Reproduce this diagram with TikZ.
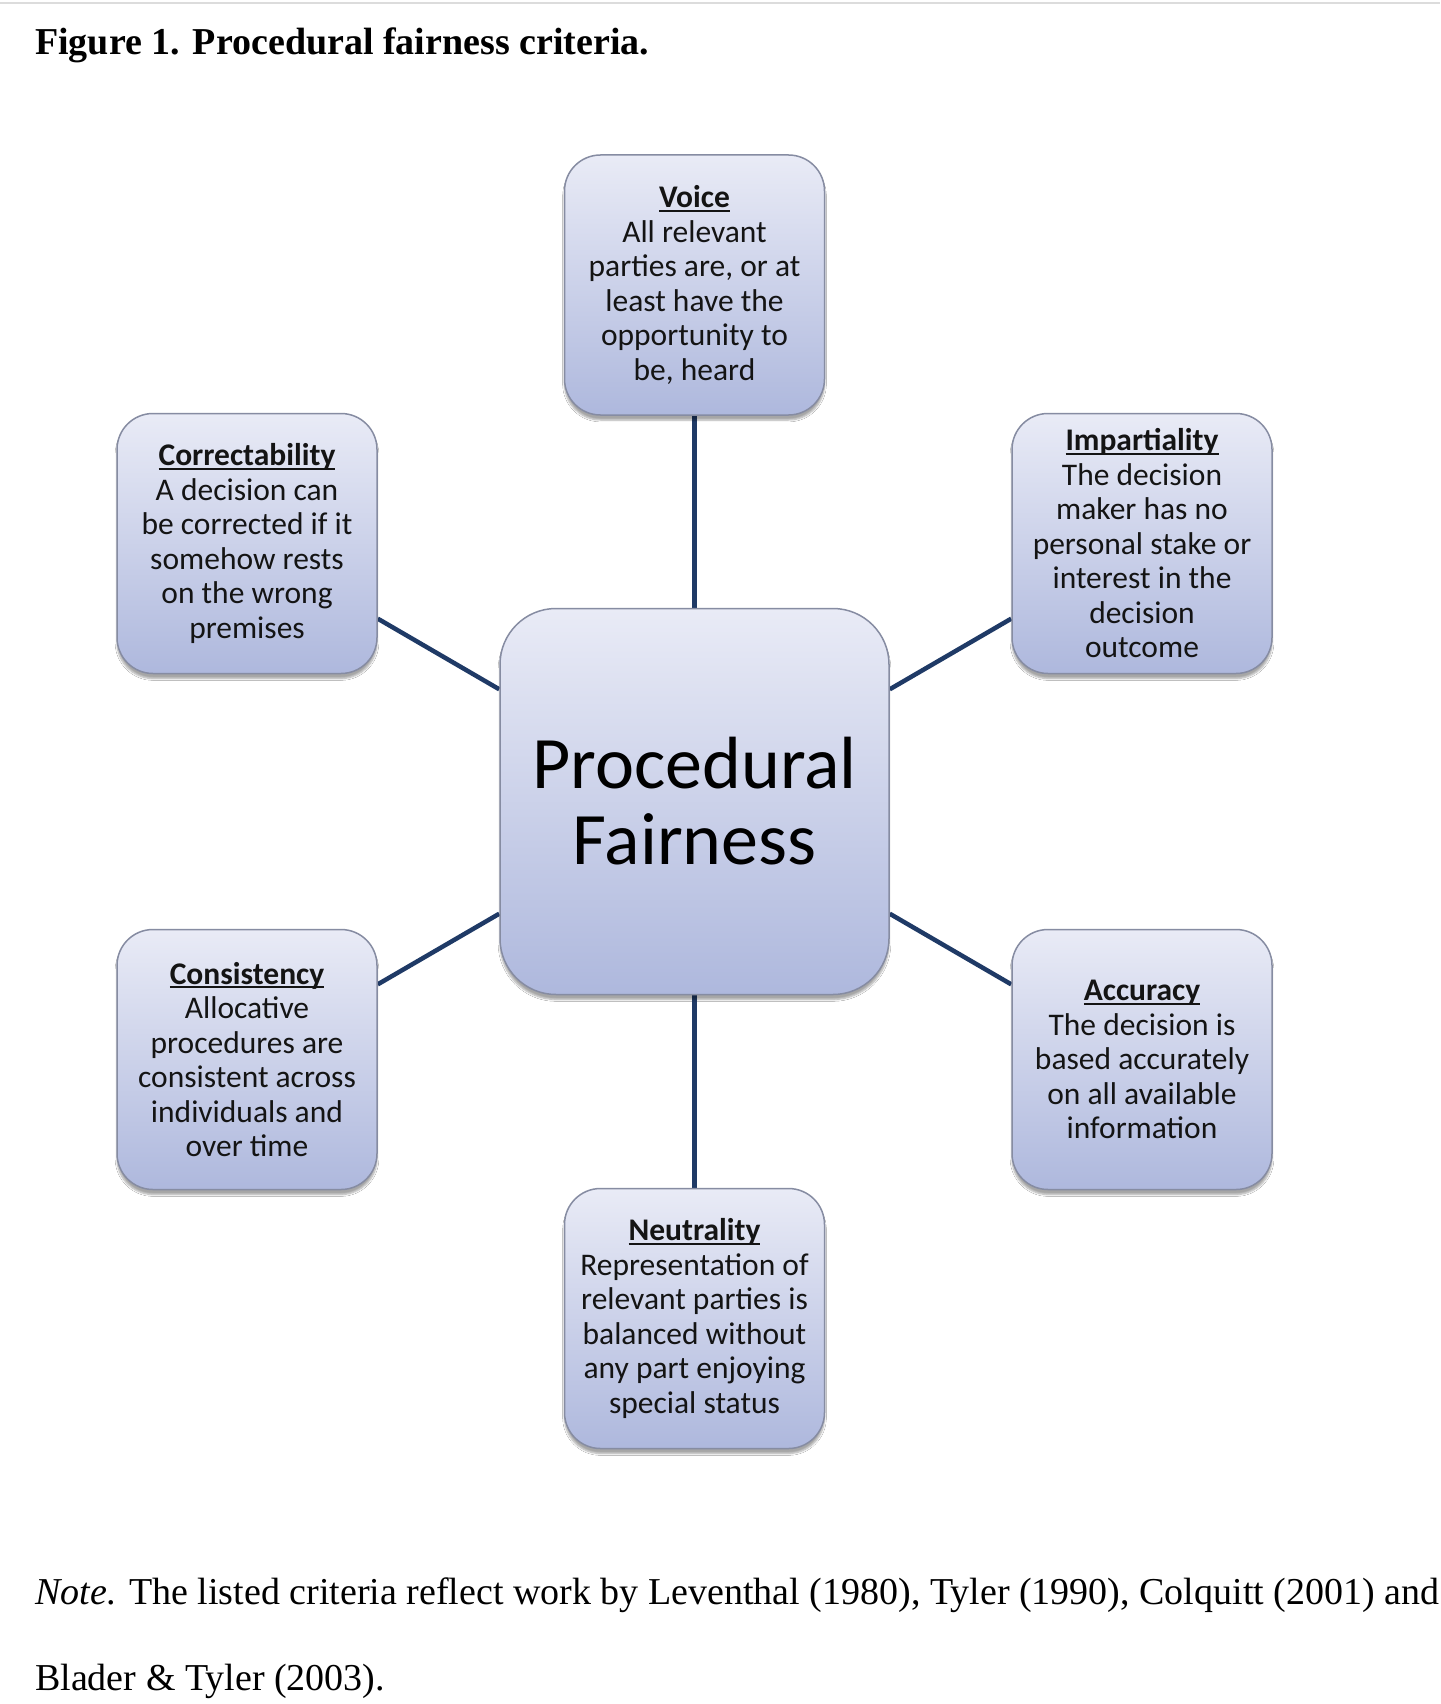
\documentclass[tikz,border=0pt]{standalone}
\usepackage{fontspec}
\setmainfont{Liberation Serif}
\newfontfamily\calibri{Carlito}
\usetikzlibrary{shadows.blur,backgrounds}
\definecolor{boxtop}{HTML}{E9EBF6}
\definecolor{boxbot}{HTML}{AEB8DD}
\definecolor{boxedge}{HTML}{868CA2}
\definecolor{conncol}{HTML}{1F3A66}
\definecolor{rulegray}{HTML}{DCDCDC}
\definecolor{txt}{HTML}{141414}
\newcommand{\crithead}[1]{\setbox0\hbox{\textbf{#1}}\leavevmode\rlap{\rule[-4pt]{\wd0}{1.8pt}}\box0}
\begin{document}
\begin{tikzpicture}[x=1pt,y=-1pt,
  crit/.style={rectangle, rounded corners=36pt, minimum width=260pt, minimum height=260pt,
    inner sep=0pt, top color=boxtop, bottom color=boxbot, draw=boxedge, line width=1.5pt,
    align=center, text=txt, font=\calibri\fontsize{31.5}{34.5}\selectfont,
    blur shadow={shadow xshift=0pt, shadow yshift=-5pt, shadow opacity=35, shadow blur steps=6}},
  hub/.style={crit, rounded corners=56pt, minimum width=389pt, minimum height=386pt,
    text=black, font=\calibri\fontsize{74}{76}\selectfont},
  conn/.style={draw=conncol, line width=4.5pt},
  caption/.style={anchor=base west, inner sep=0pt, font=\fontsize{38}{44}\selectfont}]
\useasboundingbox (0,0) rectangle (1440,1704);
\draw[rulegray, line width=2.5pt] (0,3) -- (1440,3);

\node[caption] (title) at (35,55) {\textbf{Figure 1. Procedural fairness criteria.}};

\node[hub] (pf) at (694.5,801.5) {Procedural\\Fairness};

\node[crit] (voice) at (694.5,285) {\crithead{Voice}\\All relevant\\parties are, or at\\least have the\\opportunity to\\be, heard};
\node[crit] (corr) at (247,543.5) {\crithead{Correctability}\\A decision can\\be corrected if it\\somehow rests\\on the wrong\\premises};
\node[crit] (imp) at (1142,543.5) {\crithead{Impartiality}\\The decision\\maker has no\\personal stake or\\interest in the\\decision\\outcome};
\node[crit] (cons) at (247,1059.5) {\crithead{Consistency}\\Allocative\\procedures are\\consistent across\\individuals and\\over time};
\node[crit] (acc) at (1142,1059.5) {\crithead{Accuracy}\\The decision is\\based accurately\\on all available\\information};
\node[crit] (neut) at (694.5,1318.5) {\crithead{Neutrality}\\Representation of\\relevant parties is\\balanced without\\any part enjoying\\special status};

\begin{scope}[on background layer]
\fill[white] (0,6) rectangle (1440,1704);
\draw[conn] (pf) -- (voice);
\draw[conn] (pf) -- (corr);
\draw[conn] (pf) -- (imp);
\draw[conn] (pf) -- (cons);
\draw[conn] (pf) -- (acc);
\draw[conn] (pf) -- (neut);
\end{scope}

\node[caption] (note1) at (35,1604) {\textit{Note}. The listed criteria reflect work by Leventhal (1980), Tyler (1990), Colquitt (2001) and};
\node[caption] (note2) at (35,1690) {Blader \& Tyler (2003).};
\end{tikzpicture}
\end{document}
